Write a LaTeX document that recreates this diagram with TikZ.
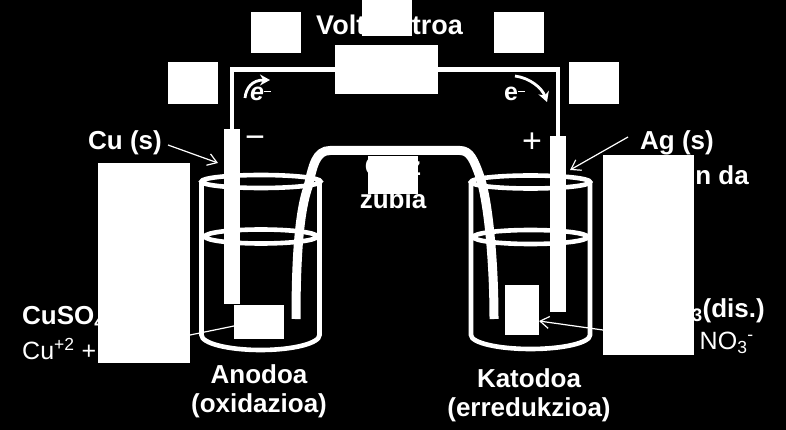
\documentclass[tikz,border=0pt]{standalone}
\usepackage{fontspec}
\setmainfont{Liberation Sans}
\usetikzlibrary{arrows.meta}
\tikzset{
  mask/.style={fill=white,draw=none,inner sep=0pt,outer sep=0pt,rectangle},
  electrode/.style={fill=white,draw=none,inner sep=0pt,outer sep=0pt,rectangle,minimum width=16pt},
  wire/.style={draw=white,line width=4.5pt},
  glass/.style={draw=white,line width=4.6pt},
  bridge/.style={draw=white,line width=9pt,line join=round},
  leader/.style={draw=white,line width=1.2pt},
  tipped/.style={leader,-{Straight Barb[length=9pt,width=12pt,line width=1.2pt]}},
  flow/.style={draw=white,line width=2.8pt,-{Stealth[length=10pt,width=11pt]}},
  lab/.style={text=white,font=\fontsize{26}{28}\selectfont\bfseries,inner sep=0pt,align=center},
  reg/.style={text=white,font=\fontsize{25}{27}\selectfont,inner sep=0pt},
  sign/.style={text=white,font=\fontsize{34}{34}\selectfont,inner sep=0pt}
}
\begin{document}
\begin{tikzpicture}[x=1pt,y=-1pt]
\fill[black] (0,0) rectangle (786,430);
\useasboundingbox (0,0) rectangle (786,430);
% texts under the masks
\node[lab,font=\fontsize{27}{28}\selectfont\bfseries] (volt) at (389.500,25) {Voltimetroa};
\node[lab,anchor=west] (cu) at (88,143) {Cu (s)};
\node[lab,anchor=west] (ag) at (640,143) {Ag (s)};
\node[lab,anchor=east] (nda) at (749,175) {n da};
\node[lab] (gatz) at (393,167) {Gatz};
\node[lab] (zubia) at (393,199) {zubia};
\node[lab,anchor=west] (cuso) at (22,318) {CuSO\textsubscript{4}(dis.)};
\node[reg,anchor=west] (cuion) at (22,351) {Cu\textsuperscript{+2} + SO\textsubscript{4}\textsuperscript{-2}};
\node[lab,anchor=east] (agno) at (765,311) {AgNO\textsubscript{3}(dis.)};
\node[reg,anchor=east] (agion) at (754,343) {Ag\textsuperscript{+} + NO\textsubscript{3}\textsuperscript{-}};
\node[lab] (anodoa) at (259,374) {Anodoa};
\node[lab] (oxi) at (259,406) {(oxidazioa)};
\node[lab] (katodoa) at (529,378) {Katodoa};
\node[lab] (erre) at (529,410) {(erredukzioa)};
% beakers
\draw[glass] (201.500,181) -- (201.500,335) arc[start angle=180,end angle=0,x radius=59,y radius=15] -- (319.500,181);
\draw[glass] (261,181.500) ellipse[x radius=59.500,y radius=6.500];
\draw[glass] (261,236.500) ellipse[x radius=56,y radius=7];
\draw[glass] (471,182) -- (471,335) arc[start angle=180,end angle=0,x radius=59.500,y radius=14] -- (590,182);
\draw[glass] (530.500,182) ellipse[x radius=59.500,y radius=6.500];
\draw[glass] (530.500,237) ellipse[x radius=57,y radius=7];
% salt bridge
\coordinate (bl) at (296,319);
\coordinate (br) at (494,319);
\draw[bridge] (bl) .. controls (296,270) and (298,215) .. (308,187) .. controls (313,165) and (316,150.500) .. (330,150.500) -- (460,150.500) .. controls (470,150.500) and (474,160) .. (480,177) .. controls (488,200) and (494,260) .. (br);
% electrodes and wires
\node[electrode,minimum height=175pt] (anode) at (232,216.500) {};
\node[electrode,minimum height=176pt] (cathode) at (558,224) {};
\node[mask,minimum width=103pt,minimum height=49pt] (meter) at (386.500,69.500) {};
\draw[wire] (anode.north) |- (meter.west);
\draw[wire] (cathode.north) |- (meter.east);
% leaders
\node[mask,minimum width=92pt,minimum height=200pt] (leftbox) at (144,263) {};
\node[mask,minimum width=91pt,minimum height=200pt] (rightbox) at (648.500,255) {};
\node[mask,minimum width=50pt,minimum height=34pt] (anodebox) at (259,322) {};
\node[mask,minimum width=34pt,minimum height=50pt] (cathodebox) at (522,310) {};
\coordinate (cutip) at (218,163);
\coordinate (cutail) at (168,145);
\coordinate (agtip) at (570,170);
\coordinate (agtail) at (628,137);
\draw[tipped] (cutail) -- (cutip);
\draw[tipped] (agtail) -- (agtip);
\draw[leader] (leftbox.east |- 0,335) -- (anodebox.west |- 0,326);
\draw[tipped] (rightbox.west |- 0,330) -- (cathodebox.east |- 0,321);
% electron flow
\coordinate (fl1) at (245,98);
\coordinate (fl2) at (270,80);
\coordinate (fr1) at (515,76);
\coordinate (fr2) at (547,102);
\draw[flow] (fl1) .. controls (246,88) and (252,80) .. (fl2);
\draw[flow] (fr1) .. controls (530,78) and (542,88) .. (fr2);
\node[text=white,inner sep=0pt,font=\fontsize{25}{25}\selectfont\bfseries\itshape] (el) at (257,94) {e};
\node[text=white,inner sep=0pt,font=\fontsize{25}{25}\selectfont\bfseries] (er) at (511,94) {e};
\draw[white,line width=.9pt] (el.north east) ++(0,5) coordinate (m1) -- ++(7,0) coordinate (m2);
\draw[white,line width=.9pt] (er.north east) ++(0,5) coordinate (m3) -- ++(7,0) coordinate (m4);
\node[sign] (minus) at (255,142) {−};
\node[sign] (plus) at (532,143) {+};
% masks on top
\node[mask,minimum width=50pt,minimum height=36pt] (m-top) at (387,18) {};
\node[mask,minimum width=50pt,minimum height=41pt] (m-tl) at (276,32.500) {};
\node[mask,minimum width=50pt,minimum height=41pt] (m-tr) at (519,32.500) {};
\node[mask,minimum width=50pt,minimum height=42pt] (m-fl) at (193,83) {};
\node[mask,minimum width=50pt,minimum height=42pt] (m-fr) at (594,83) {};
\node[mask,minimum width=50pt,minimum height=38pt] (m-gatz) at (393,175) {};
\end{tikzpicture}
\end{document}
